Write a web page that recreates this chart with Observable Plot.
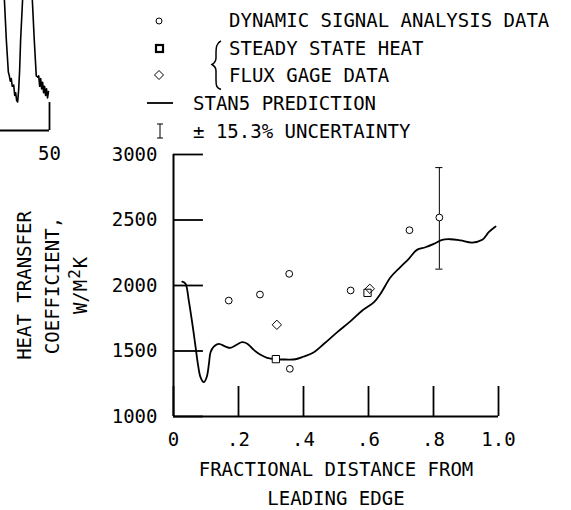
<!DOCTYPE html>
<html>
<head>
<meta charset="utf-8">
<script src="https://cdn.jsdelivr.net/npm/d3@7"></script>
<script src="https://cdn.jsdelivr.net/npm/@observablehq/plot@0.6"></script>
<style>
  html, body { margin: 0; padding: 0; background: white; }
  #wrap { position: relative; width: 571px; height: 510px; overflow: hidden; }
  #wrap > svg, #wrap > div { position: absolute; left: 0; top: 0; }
</style>
</head>
<body>
<div id="wrap"></div>
<script>
// ---------- data ----------
// STAN5 prediction curve (fractional distance, h in W/m^2K)
const predX = [0.027, 0.037, 0.047, 0.058, 0.068, 0.075, 0.083, 0.093, 0.102, 0.109, 0.114, 0.124, 0.139, 0.160, 0.175, 0.196, 0.211, 0.227, 0.247, 0.268, 0.288, 0.315, 0.345, 0.375, 0.401, 0.432, 0.463, 0.504, 0.545, 0.581, 0.617, 0.637, 0.668, 0.698, 0.724, 0.749, 0.775, 0.801, 0.827, 0.852, 0.883, 0.919, 0.950, 0.970, 0.991];
const predH = [2030, 2013, 1885, 1708, 1529, 1402, 1300, 1262, 1300, 1402, 1491, 1534, 1555, 1534, 1524, 1550, 1567, 1555, 1509, 1471, 1448, 1437, 1435, 1437, 1458, 1491, 1555, 1644, 1728, 1809, 1873, 1937, 2063, 2140, 2204, 2272, 2292, 2318, 2349, 2353, 2344, 2328, 2349, 2407, 2450];

// Dynamic signal analysis data (circles)
const dsaX = [0.170, 0.266, 0.356, 0.358, 0.545, 0.726, 0.818];
const dsaH = [1885, 1931, 2089, 1364, 1962, 2422, 2519];

// Steady state heat flux gage data (squares and diamonds)
const squareX = [0.315, 0.597];
const squareH = [1438, 1944];
const diamondX = [0.318, 0.604];
const diamondH = [1700, 1975];

// uncertainty bar (±15.3%)
const errX = [0.818];
const errLow = [2125];
const errHigh = [2900];

// axis ticks
const xTicks = [0, 0.2, 0.4, 0.6, 0.8, 1.0];
const xTickLabels = ["0", ".2", ".4", ".6", ".8", "1.0"];
const yTicks = [1000, 1500, 2000, 2500, 3000];

// legend
const legendLabels = ["DYNAMIC SIGNAL ANALYSIS DATA", "STEADY STATE HEAT", "FLUX GAGE DATA", "STAN5 PREDICTION", "± 15.3% UNCERTAINTY"];

// fragment of the neighbouring panel (top-left corner)
const fragAX = [40.8, 41.2, 41.6, 41.8, 42.0, 42.2, 42.4, 42.7, 42.9, 43.1, 43.3, 43.5, 43.7, 43.9, 44.1, 44.5];
const fragAY = [1.0, 0.69, 0.45, 0.42, 0.38, 0.40, 0.34, 0.35, 0.27, 0.29, 0.23, 0.22, 0.31, 0.46, 0.69, 1.0];
const fragBX = [46.5, 46.9, 47.3, 47.6, 47.8, 48.0, 48.2, 48.4, 48.6, 48.8, 49.0, 49.2, 49.4, 49.6, 49.8];
const fragBY = [1.0, 0.69, 0.42, 0.41, 0.42, 0.34, 0.40, 0.32, 0.37, 0.29, 0.34, 0.27, 0.32, 0.25, 0.30];
const fragTicks = [50];

// ---------- build ----------
const FONT = "DejaVu Sans Mono";
const pred = predX.map((x, i) => ({x, h: predH[i]}));
const dsa = dsaX.map((x, i) => ({x, h: dsaH[i]}));
const squares = squareX.map((x, i) => ({x, h: squareH[i]}));
const diamonds = diamondX.map((x, i) => ({x, h: diamondH[i]}));
const errs = errX.map((x, i) => ({x, lo: errLow[i], hi: errHigh[i]}));
const capHalf = 0.011;
const yTickLen = 0.092;   // inward tick length in x units
const xTickLen = 229;     // inward tick length in y units

const main = Plot.plot({
  width: 571, height: 510,
  marginLeft: 173, marginRight: 73, marginTop: 154, marginBottom: 94,
  x: {domain: [0, 1]},
  y: {domain: [1000, 3000]},
  style: {fontFamily: FONT, fontSize: "19px", color: "black", background: "white"},
  marks: [
    Plot.ruleX([0], {y1: 1000, y2: 3000, strokeWidth: 2}),
    Plot.ruleY([1000], {x1: 0, x2: 1, strokeWidth: 2}),
    Plot.ruleY(yTicks, {x1: 0, x2: yTickLen, strokeWidth: 1.8}),
    Plot.ruleX(xTicks, {y1: 1000, y2: 1000 + xTickLen, strokeWidth: 1.8}),
    Plot.axisY(yTicks, {tickSize: 0, tickPadding: 16, tickFormat: d => String(d), label: null}),
    Plot.axisX(xTicks, {tickSize: 0, tickPadding: 16, tickFormat: d => xTickLabels[xTicks.indexOf(d)], label: null}),
    Plot.line(pred, {x: "x", y: "h", curve: "catmull-rom", strokeWidth: 1.8}),
    Plot.ruleX(errs, {x: "x", y1: "lo", y2: "hi", strokeWidth: 1}),
    Plot.ruleY(errs, {y: "lo", x1: d => d.x - capHalf, x2: d => d.x + capHalf, strokeWidth: 1}),
    Plot.ruleY(errs, {y: "hi", x1: d => d.x - capHalf, x2: d => d.x + capHalf, strokeWidth: 1}),
    Plot.dot(dsa, {x: "x", y: "h", r: 3.4, stroke: "black", fill: "white", strokeWidth: 1}),
    Plot.dot(squares, {x: "x", y: "h", r: 4.1, symbol: "square", stroke: "black", fill: "white", strokeWidth: 1}),
    Plot.dot(diamonds, {x: "x", y: "h", r: 4.2, symbol: "diamond2", stroke: "black", fill: "none", strokeWidth: 1}),
    Plot.text(["FRACTIONAL DISTANCE FROM\nLEADING EDGE"], {frameAnchor: "bottom", lineAnchor: "top", dy: 38.5, lineHeight: 29 / 19, fill: "black"}),
    Plot.text(["HEAT TRANSFER\nCOEFFICIENT,\nW/M K"], {frameAnchor: "left", rotate: -90, textAnchor: "middle", lineAnchor: "top", dx: -162, lineHeight: 28 / 19, fill: "black"}),
    Plot.text(["2"], {frameAnchor: "left", rotate: -90, textAnchor: "middle", lineAnchor: "top", dx: -105, dy: -11.5, fontSize: 16, fill: "black"})
  ]
});
document.getElementById("wrap").appendChild(main);

// fragment of neighbouring panel
const fragA = fragAX.map((x, i) => ({x, y: fragAY[i]}));
const fragB = fragBX.map((x, i) => ({x, y: fragBY[i]}));
const frag = Plot.plot({
  width: 70, height: 170,
  marginLeft: 0, marginRight: 21, marginTop: 0, marginBottom: 40,
  x: {domain: [40, 50]},
  y: {domain: [0, 1], axis: null},
  style: {fontFamily: FONT, fontSize: "19px", color: "black", background: "transparent"},
  marks: [
    Plot.line(fragA, {x: "x", y: "y", strokeWidth: 1.6}),
    Plot.line(fragB, {x: "x", y: "y", strokeWidth: 1.6}),
    Plot.ruleY([0], {x1: 40, x2: 50, strokeWidth: 2}),
    Plot.ruleX(fragTicks, {y1: 0, y2: 0.215, strokeWidth: 1.8}),
    Plot.axisX(fragTicks, {tickSize: 0, tickPadding: 16, tickFormat: d => String(d), label: null})
  ]
});
document.getElementById("wrap").appendChild(frag);

// legend overlay
const lg = d3.select("#wrap").append("svg")
  .attr("width", 571).attr("height", 150)
  .style("pointer-events", "none")
  .attr("font-family", FONT).attr("font-size", 19);
const baselines = [27, 55, 82, 110, 138];
const textX = [229, 229, 229, 193, 193];
lg.selectAll("text").data(legendLabels).join("text")
  .attr("x", (d, i) => textX[i]).attr("y", (d, i) => baselines[i])
  .attr("fill", "black").text(d => d);
lg.append("circle").attr("cx", 159).attr("cy", 21).attr("r", 3).attr("fill", "white").attr("stroke", "black").attr("stroke-width", 1);
lg.append("rect").attr("x", 156).attr("y", 45).attr("width", 7).attr("height", 7).attr("fill", "white").attr("stroke", "black").attr("stroke-width", 2.2);
lg.append("path").attr("d", "M159,70.5 L163.5,75 L159,79.5 L154.5,75 Z").attr("fill", "none").attr("stroke", "black").attr("stroke-width", 1);
lg.append("line").attr("x1", 147).attr("x2", 173).attr("y1", 103).attr("y2", 103).attr("stroke", "black").attr("stroke-width", 1.8);
lg.append("path").attr("d", "M160,124 V138 M157,124 H163 M157,138 H163").attr("fill", "none").attr("stroke", "black").attr("stroke-width", 1);
lg.append("path")
  .attr("d", "M221,41 C216.5,43 216,47 216,54 L216,58 C216,61.5 214.5,63 212,64.5 C214.5,66 216,67.5 216,71 L216,80 C216,86 216.5,88 221,89.5")
  .attr("fill", "none").attr("stroke", "black").attr("stroke-width", 1.5);
</script>
</body>
</html>
